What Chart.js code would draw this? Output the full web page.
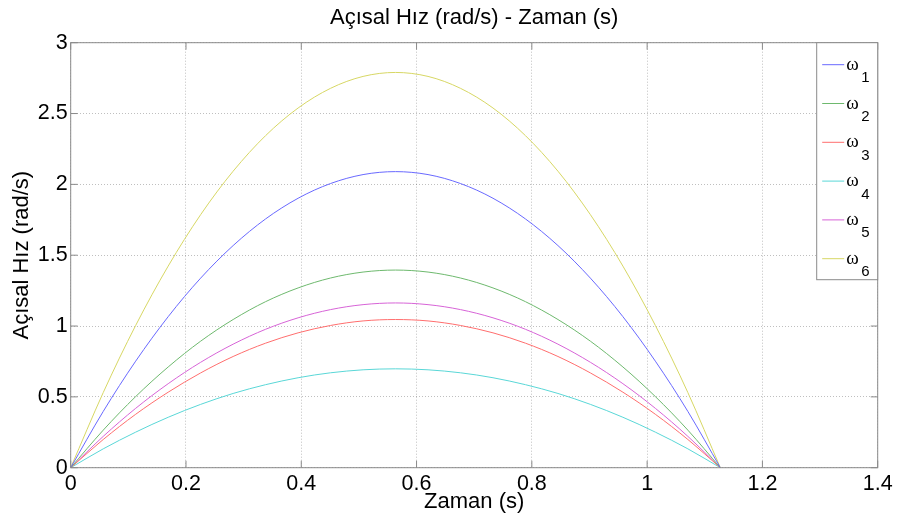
<!DOCTYPE html>
<html>
<head>
<meta charset="utf-8">
<title>Açısal Hız - Zaman</title>
<script src="https://cdn.jsdelivr.net/npm/chart.js@4.4.0/dist/chart.umd.min.js"></script>
<style>
    html, body { margin: 0; padding: 0; background: #fff; }
    #chart { display: block; }
</style>
</head>
<body>
<canvas id="chart" width="899" height="521"></canvas>
<script>
// Zaman (s) - sample points
const timeValues = [0, 0.0564, 0.1127, 0.1691, 0.2254, 0.2818, 0.3381, 0.3945, 0.4508, 0.5072, 0.5635,
                    0.6199, 0.6762, 0.7326, 0.7889, 0.8453, 0.9016, 0.958, 1.0143, 1.0707, 1.127];

// Açısal hız (rad/s) for each link
const omega1 = [0, 0.397, 0.752, 1.066, 1.338, 1.568, 1.756, 1.902, 2.006, 2.069, 2.09,
                2.069, 2.006, 1.902, 1.756, 1.568, 1.338, 1.066, 0.752, 0.397, 0];
const omega2 = [0, 0.265, 0.502, 0.711, 0.893, 1.046, 1.172, 1.269, 1.339, 1.381, 1.395,
                1.381, 1.339, 1.269, 1.172, 1.046, 0.893, 0.711, 0.502, 0.265, 0];
const omega3 = [0, 0.199, 0.377, 0.533, 0.669, 0.785, 0.879, 0.952, 1.004, 1.036, 1.046,
                1.036, 1.004, 0.952, 0.879, 0.785, 0.669, 0.533, 0.377, 0.199, 0];
const omega4 = [0, 0.133, 0.251, 0.356, 0.447, 0.524, 0.586, 0.635, 0.670, 0.691, 0.698,
                0.691, 0.670, 0.635, 0.586, 0.524, 0.447, 0.356, 0.251, 0.133, 0];
const omega5 = [0, 0.221, 0.419, 0.593, 0.744, 0.872, 0.977, 1.058, 1.116, 1.151, 1.163,
                1.151, 1.116, 1.058, 0.977, 0.872, 0.744, 0.593, 0.419, 0.221, 0];
const omega6 = [0, 0.530, 1.004, 1.423, 1.786, 2.093, 2.344, 2.539, 2.678, 2.762, 2.79,
                2.762, 2.678, 2.539, 2.344, 2.093, 1.786, 1.423, 1.004, 0.530, 0];

const seriesNames = ['1', '2', '3', '4', '5', '6'];   // subscripts of ω
const seriesColors = ['rgb(105,105,255)', 'rgb(110,185,110)', 'rgb(255,110,110)',
                      'rgb(90,215,215)', 'rgb(215,100,215)', 'rgb(215,215,100)'];

const xTickValues = [0, 0.2, 0.4, 0.6, 0.8, 1, 1.2, 1.4];
const yTickValues = [0, 0.5, 1, 1.5, 2, 2.5, 3];

const FONT = "'Liberation Sans', Arial, sans-serif";
const AXIS_COLOR = '#8a8a8a';

function toPoints(values) {
    return timeValues.map((t, i) => ({ x: t, y: values[i] }));
}

const allSeries = [omega1, omega2, omega3, omega4, omega5, omega6];
const datasets = allSeries.map((vals, i) => ({
    label: 'ω' + seriesNames[i],
    data: toPoints(vals),
    borderColor: seriesColors[i],
    borderWidth: 1,
    pointRadius: 0,
    fill: false,
    cubicInterpolationMode: 'monotone'
}));

// Box round the plot area with inward tick marks (matlab look)
const boxPlugin = {
    id: 'box',
    afterDatasetsDraw(chart) {
        const { ctx, chartArea: a, scales } = chart;
        const len = 7;
        ctx.save();
        ctx.strokeStyle = AXIS_COLOR;
        ctx.lineWidth = 1;
        ctx.strokeRect(a.left, a.top, a.right - a.left, a.bottom - a.top);
        ctx.beginPath();
        scales.x.ticks.forEach(t => {
            const px = scales.x.getPixelForValue(t.value);
            ctx.moveTo(px, a.bottom); ctx.lineTo(px, a.bottom - len);
            ctx.moveTo(px, a.top); ctx.lineTo(px, a.top + len);
        });
        scales.y.ticks.forEach(t => {
            const py = scales.y.getPixelForValue(t.value);
            ctx.moveTo(a.left, py); ctx.lineTo(a.left + len, py);
            ctx.moveTo(a.right, py); ctx.lineTo(a.right - len, py);
        });
        ctx.stroke();
        ctx.restore();
    }
};

// Legend box in the upper right corner, ω with subscript
const legendPlugin = {
    id: 'omegaLegend',
    afterDraw(chart) {
        const { ctx, chartArea: a } = chart;
        const boxW = 61, boxH = 237;
        const x0 = a.right - boxW, y0 = a.top;
        ctx.save();
        ctx.fillStyle = '#fff';
        ctx.fillRect(x0, y0, boxW, boxH);
        ctx.strokeStyle = AXIS_COLOR;
        ctx.lineWidth = 1;
        ctx.strokeRect(x0, y0, boxW, boxH);
        chart.data.datasets.forEach((ds, i) => {
            const y = y0 + 22 + i * 38.8;
            ctx.strokeStyle = ds.borderColor;
            ctx.beginPath();
            ctx.moveTo(x0 + 5.5, y);
            ctx.lineTo(x0 + 27.5, y);
            ctx.stroke();
            ctx.fillStyle = '#000';
            ctx.textBaseline = 'alphabetic';
            ctx.textAlign = 'left';
            ctx.font = "19px 'Liberation Serif', serif";
            ctx.fillText('ω', x0 + 29.5, y + 5);
            ctx.font = '15px ' + FONT;
            ctx.fillText(seriesNames[i], x0 + 44.5, y + 17.5);
        });
        ctx.restore();
    }
};

new Chart(document.getElementById('chart'), {
    type: 'line',
    data: { datasets: datasets },
    options: {
        responsive: false,
        animation: false,
        devicePixelRatio: 1,
        layout: { padding: { left: 0, right: 21.3, top: 0, bottom: 0 } },
        plugins: {
            legend: { display: false },
            tooltip: { enabled: false },
            title: {
                display: true,
                text: 'Açısal Hız (rad/s) - Zaman (s)',
                color: '#000',
                fullSize: false,
                font: { family: FONT, size: 22, weight: 'normal' },
                padding: { top: 4.8, bottom: 11.5 }
            }
        },
        scales: {
            x: {
                type: 'linear',
                min: 0,
                max: 1.4,
                afterBuildTicks: s => { s.ticks = xTickValues.map(v => ({ value: v })); },
                afterFit: s => { s.height = 53.3; },
                grid: { color: 'rgba(0,0,0,0.25)', drawTicks: false },
                border: { display: false, dash: [1, 2] },
                ticks: {
                    color: '#000', padding: 3, maxRotation: 0,
                    font: { family: FONT, size: 21.5 },
                    callback: v => String(v)
                },
                title: {
                    display: true,
                    text: 'Zaman (s)',
                    color: '#000',
                    font: { family: FONT, size: 22 },
                    padding: { top: 0, bottom: 6 }
                }
            },
            y: {
                min: 0,
                max: 3,
                afterBuildTicks: s => { s.ticks = yTickValues.map(v => ({ value: v })); },
                afterFit: s => { s.width = 70.7; },
                grid: { color: 'rgba(0,0,0,0.25)', drawTicks: false },
                border: { display: false, dash: [1, 2] },
                ticks: {
                    color: '#000', padding: 3,
                    font: { family: FONT, size: 21.5 },
                    callback: v => String(v)
                },
                title: {
                    display: true,
                    text: 'Açısal Hız (rad/s)',
                    color: '#000',
                    font: { family: FONT, size: 22 },
                    padding: { top: 8.8, bottom: 0 }
                }
            }
        }
    },
    plugins: [boxPlugin, legendPlugin]
});
</script>
</body>
</html>
